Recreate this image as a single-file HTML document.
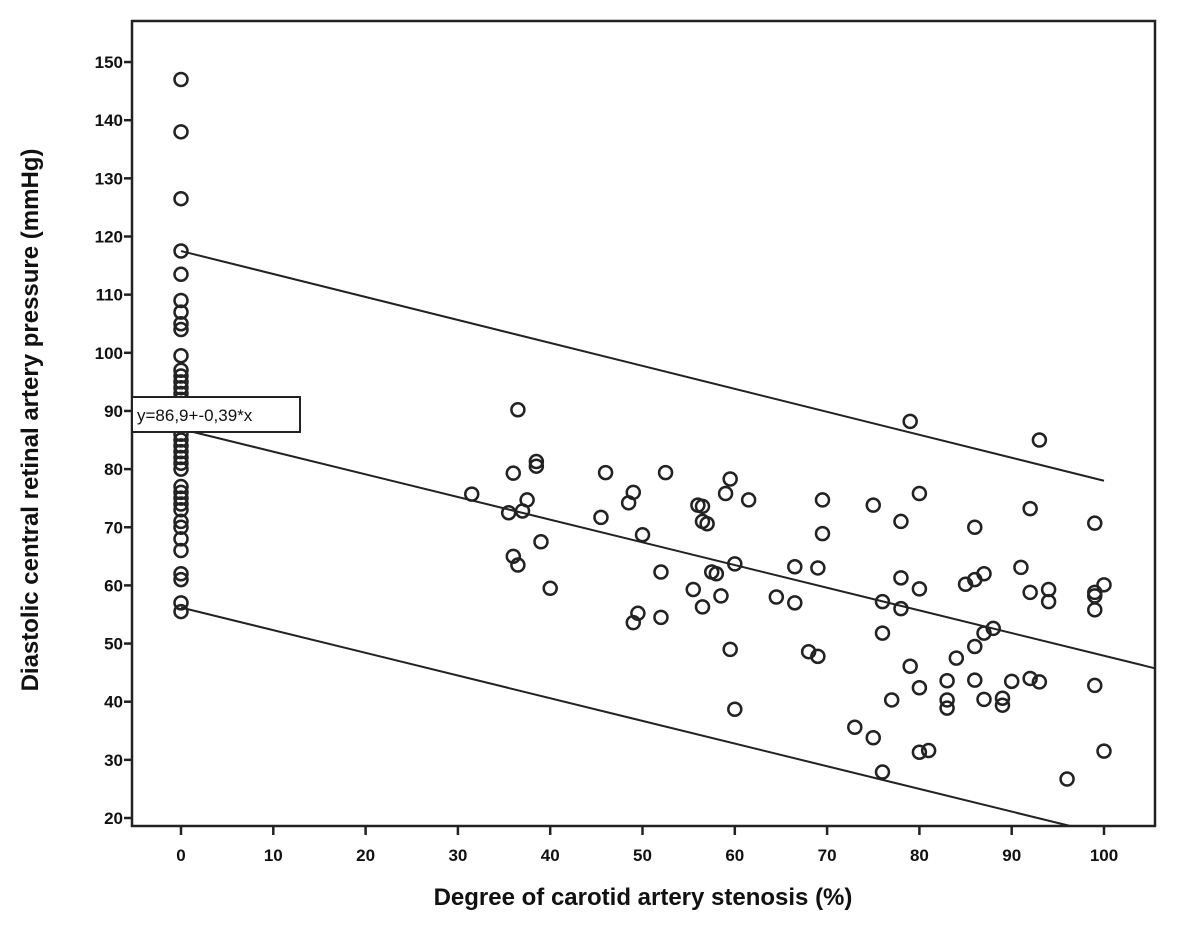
<!DOCTYPE html>
<html><head><meta charset="utf-8"><style>
html,body{margin:0;padding:0;background:#fff}
svg{display:block}
text{font-family:"Liberation Sans",sans-serif;fill:#111}
</style></head><body>
<svg id="chart" width="1181" height="952" viewBox="0 0 1181 952">
<rect x="132" y="21" width="1023" height="805" fill="#fff" stroke="#222" stroke-width="2.5"/>
<g id="ticks"></g>
<g id="lines"></g>
<g id="points"></g>
<g>
<rect x="132" y="397" width="168" height="35" fill="#fff" stroke="#222" stroke-width="2"/>
<text x="137" y="421" font-size="17" fill="#333" style="font-family:'Liberation Sans Narrow','Liberation Sans',sans-serif">y=86,9+-0,39*x</text>
</g>
<text x="643" y="905" font-size="24" font-weight="bold" text-anchor="middle">Degree of carotid artery stenosis (%)</text>
<text transform="translate(38,420) rotate(-90)" font-size="24" font-weight="bold" text-anchor="middle">Diastolic central retinal artery pressure (mmHg)</text>
</svg>
<script>
const xTicks=[0,10,20,30,40,50,60,70,80,90,100];
const yTicks=[20,30,40,50,60,70,80,90,100,110,120,130,140,150];
const zeroGroupY=[147,138,126.5,117.5,113.5,109,107,105,104,99.5,97,96,95,94,93,92,90,88,86,85,84,83,82,81,80,77,76,75,74,73,71,70,68,66,62,61,57,55.5];
const stenosisX=[31.5,35.5,36,36,36.5,36.5,37,37.5,38.5,38.5,39,40,45.5,46,48.5,49,49,49.5,50,52,52,52.5,55.5,56,56.5,56.5,56.5,57,57.5,58,58.5,59,59.5,59.5,60,60,61.5,64.5,66.5,66.5,68,69,69,69.5,69.5,73,75,75,76,76,76,77,78,78,78,79,79,80,80,80,80,81,83,83,83,84,85,86,86,86,86,87,87,87,88,89,89,90,91,92,92,92,93,93,94,94,96,99,99,99,99,99,100,100];
const pressureY=[75.7,72.5,79.3,65,63.5,90.2,72.8,74.7,81.3,80.5,67.5,59.5,71.7,79.4,74.2,76,53.6,55.2,68.7,62.3,54.5,79.4,59.3,73.8,73.6,71,56.3,70.6,62.3,62,58.2,75.8,78.3,49,63.7,38.7,74.7,58,63.2,57,48.6,63,47.8,68.9,74.7,35.6,73.8,33.8,57.2,51.8,27.9,40.3,71,61.3,56,88.2,46.1,75.8,59.4,42.4,31.3,31.6,43.6,40.3,38.9,47.5,60.2,70,61,49.5,43.7,62,51.8,40.4,52.6,40.6,39.4,43.5,63.1,73.2,58.8,44,85,43.4,59.3,57.2,26.7,70.7,58.8,58.2,55.8,42.8,60.1,31.5];
const fitIntercept=86.9, fitSlope=-0.39;
const upperIntercept=117.5, upperSlope=-0.395;
const lowerIntercept=56.2, lowerSlope=-0.39;

const NS="http://www.w3.org/2000/svg";
const X=v=>181+v*9.23;
const Y=v=>818-(v-20)*58.15/10;
const FL=132,FR=1155,FT=21,FB=826;
function mk(tag,attrs,parent){const e=document.createElementNS(NS,tag);for(const k in attrs)e.setAttribute(k,attrs[k]);parent.appendChild(e);return e;}
const tg=document.getElementById('ticks');
xTicks.forEach(t=>{
  const l=mk('line',{x1:X(t),x2:X(t),y1:FB,y2:FB+9,stroke:'#222','stroke-width':2.5},tg);
  
  
  const tx=mk('text',{x:X(t),y:861,'font-size':17,'font-weight':'bold',fill:'#444','text-anchor':'middle'},tg);
  tx.textContent=t;
  
  
});
yTicks.forEach(t=>{
  const l=mk('line',{x1:FL-8,x2:FL,y1:Y(t),y2:Y(t),stroke:'#222','stroke-width':2.5},tg);
  
  
  const tx=mk('text',{x:FL-9,y:Y(t)+6,'font-size':17,'font-weight':'bold',fill:'#444','text-anchor':'end'},tg);
  tx.textContent=t;
  
  
});
const lg=document.getElementById('lines');
function lineSeg(a,b,x0,x1,name){
  let y0=a+b*x0,y1=a+b*x1;
  const ymin=20-(FB-818)/5.815;
  if(y1<ymin){x1=(ymin-a)/b;y1=ymin;}
  const l=mk('line',{x1:X(x0),y1:Y(y0),x2:X(x1),y2:Y(y1),stroke:'#222','stroke-width':2},lg);
  
  
}
lineSeg(upperIntercept,upperSlope,0,100,'upper-prediction-line');
lineSeg(fitIntercept,fitSlope,0,(FR-181)/9.23,'regression-line');
lineSeg(lowerIntercept,lowerSlope,0,100,'lower-prediction-line');
const pg=document.getElementById('points');
zeroGroupY.forEach(v=>{
  const c=mk('circle',{cx:X(0),cy:Y(v),r:6.5,fill:'none',stroke:'#222','stroke-width':2.5},pg);
  
  
});
stenosisX.forEach((x,i)=>{
  const c=mk('circle',{cx:X(x),cy:Y(pressureY[i]),r:6.5,fill:'none',stroke:'#222','stroke-width':2.5},pg);
  
  
});
</script>
</body></html>
